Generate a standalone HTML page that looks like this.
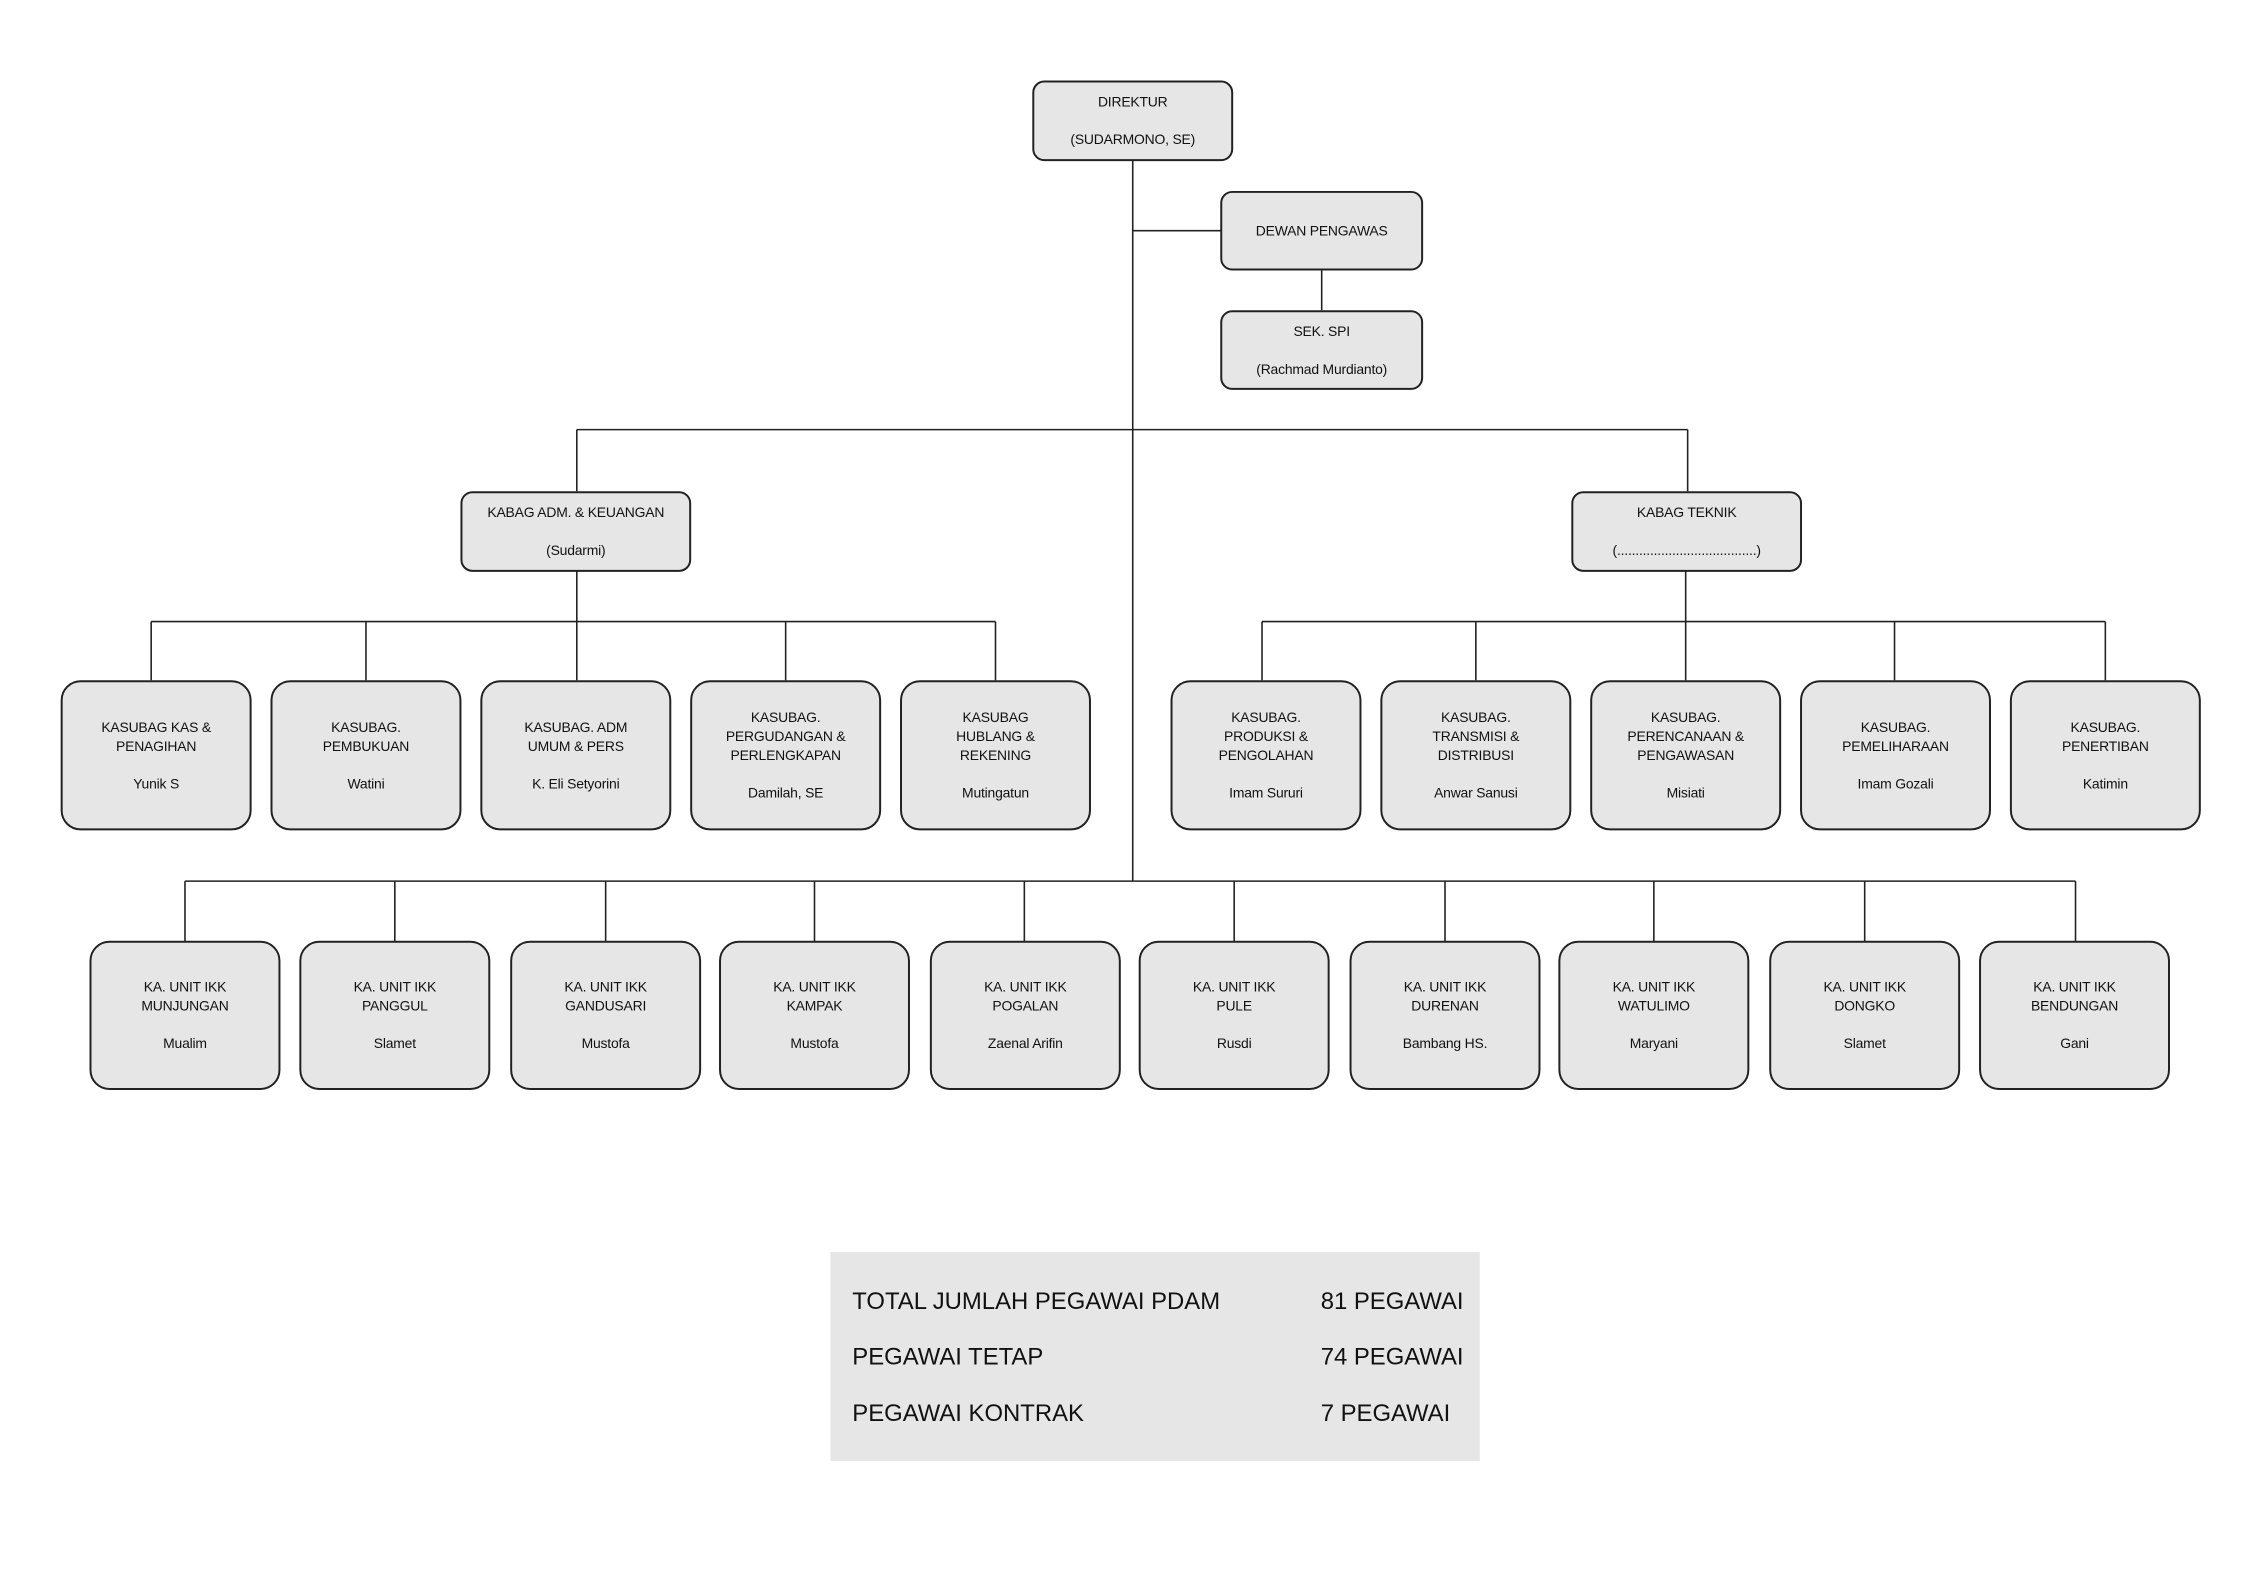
<!DOCTYPE html>
<html><head><meta charset="utf-8"><style>
html,body{margin:0;padding:0;background:#fff;}
body{width:2262px;height:1572px;position:relative;overflow:hidden;font-family:"Liberation Sans",sans-serif;color:#111;}
#w{position:absolute;left:0;top:0;width:2262px;height:1572px;transform:scale(0.9945);transform-origin:0 0;}
.b{position:absolute;box-sizing:border-box;background:#e6e6e6;border:2px solid #222;border-radius:12px;display:flex;flex-direction:column;justify-content:center;align-items:center;text-align:center;font-size:14px;line-height:19px;letter-spacing:-0.2px;}
.k{border-radius:20px;}
.sp{height:19px;}
svg{position:absolute;left:0;top:0;}
.sum{position:absolute;left:835px;top:1259px;width:653px;height:210px;background:#e6e6e6;font-size:24px;}
.sum div{position:absolute;white-space:nowrap;}
</style></head><body><div id="w">
<svg width="2262" height="1572">
<g stroke="#222" stroke-width="1.6" fill="none">
<line x1="1139" y1="161" x2="1139" y2="886"/>
<line x1="1139" y1="232" x2="1228" y2="232"/>
<line x1="1329" y1="271" x2="1329" y2="312"/>
<line x1="580" y1="432" x2="1697" y2="432"/>
<line x1="580" y1="432" x2="580" y2="494"/>
<line x1="1697" y1="432" x2="1697" y2="494"/>
<line x1="580" y1="574" x2="580" y2="684"/>
<line x1="1695" y1="574" x2="1695" y2="684"/>
<line x1="152" y1="625" x2="1001" y2="625"/>
<line x1="152" y1="625" x2="152" y2="684"/>
<line x1="368" y1="625" x2="368" y2="684"/>
<line x1="790" y1="625" x2="790" y2="684"/>
<line x1="1001" y1="625" x2="1001" y2="684"/>
<line x1="1269" y1="625" x2="2117" y2="625"/>
<line x1="1269" y1="625" x2="1269" y2="684"/>
<line x1="1484" y1="625" x2="1484" y2="684"/>
<line x1="1905" y1="625" x2="1905" y2="684"/>
<line x1="2117" y1="625" x2="2117" y2="684"/>
<line x1="186" y1="886" x2="2087" y2="886"/>
<line x1="186" y1="886" x2="186" y2="947"/>
<line x1="397" y1="886" x2="397" y2="947"/>
<line x1="609" y1="886" x2="609" y2="947"/>
<line x1="819" y1="886" x2="819" y2="947"/>
<line x1="1030" y1="886" x2="1030" y2="947"/>
<line x1="1241" y1="886" x2="1241" y2="947"/>
<line x1="1453" y1="886" x2="1453" y2="947"/>
<line x1="1663" y1="886" x2="1663" y2="947"/>
<line x1="1875" y1="886" x2="1875" y2="947"/>
<line x1="2087" y1="886" x2="2087" y2="947"/>
</g></svg>

<div class="b" style="left:1038px;top:81px;width:202px;height:81px;"><div>DIREKTUR</div><div class="sp"></div><div>(SUDARMONO, SE)</div></div>
<div class="b" style="left:1227px;top:192px;width:204px;height:80px;"><div>DEWAN PENGAWAS</div></div>
<div class="b" style="left:1227px;top:312px;width:204px;height:80px;"><div>SEK. SPI</div><div class="sp"></div><div>(Rachmad Murdianto)</div></div>

<div class="b" style="left:463px;top:494px;width:232px;height:81px;"><div>KABAG ADM. &amp; KEUANGAN</div><div class="sp"></div><div>(Sudarmi)</div></div>
<div class="b" style="left:1580px;top:494px;width:232px;height:81px;"><div>KABAG TEKNIK</div><div class="sp"></div><div>(......................................)</div></div>

<div class="b k" style="left:61px;top:684px;width:192px;height:151px;"><div>KASUBAG KAS &amp;<br>PENAGIHAN</div><div class="sp"></div><div>Yunik S</div></div>
<div class="b k" style="left:272px;top:684px;width:192px;height:151px;"><div>KASUBAG.<br>PEMBUKUAN</div><div class="sp"></div><div>Watini</div></div>
<div class="b k" style="left:483px;top:684px;width:192px;height:151px;"><div>KASUBAG. ADM<br>UMUM &amp; PERS</div><div class="sp"></div><div>K. Eli Setyorini</div></div>
<div class="b k" style="left:694px;top:684px;width:192px;height:151px;"><div>KASUBAG.<br>PERGUDANGAN &amp;<br>PERLENGKAPAN</div><div class="sp"></div><div>Damilah, SE</div></div>
<div class="b k" style="left:905px;top:684px;width:192px;height:151px;"><div>KASUBAG<br>HUBLANG &amp;<br>REKENING</div><div class="sp"></div><div>Mutingatun</div></div>

<div class="b k" style="left:1177px;top:684px;width:192px;height:151px;"><div>KASUBAG.<br>PRODUKSI &amp;<br>PENGOLAHAN</div><div class="sp"></div><div>Imam Sururi</div></div>
<div class="b k" style="left:1388px;top:684px;width:192px;height:151px;"><div>KASUBAG.<br>TRANSMISI &amp;<br>DISTRIBUSI</div><div class="sp"></div><div>Anwar Sanusi</div></div>
<div class="b k" style="left:1599px;top:684px;width:192px;height:151px;"><div>KASUBAG.<br>PERENCANAAN &amp;<br>PENGAWASAN</div><div class="sp"></div><div>Misiati</div></div>
<div class="b k" style="left:1810px;top:684px;width:192px;height:151px;"><div>KASUBAG.<br>PEMELIHARAAN</div><div class="sp"></div><div>Imam Gozali</div></div>
<div class="b k" style="left:2021px;top:684px;width:192px;height:151px;"><div>KASUBAG.<br>PENERTIBAN</div><div class="sp"></div><div>Katimin</div></div>

<div class="b k" style="left:90px;top:946px;width:192px;height:150px;"><div>KA. UNIT IKK<br>MUNJUNGAN</div><div class="sp"></div><div>Mualim</div></div>
<div class="b k" style="left:301px;top:946px;width:192px;height:150px;"><div>KA. UNIT IKK<br>PANGGUL</div><div class="sp"></div><div>Slamet</div></div>
<div class="b k" style="left:513px;top:946px;width:192px;height:150px;"><div>KA. UNIT IKK<br>GANDUSARI</div><div class="sp"></div><div>Mustofa</div></div>
<div class="b k" style="left:723px;top:946px;width:192px;height:150px;"><div>KA. UNIT IKK<br>KAMPAK</div><div class="sp"></div><div>Mustofa</div></div>
<div class="b k" style="left:935px;top:946px;width:192px;height:150px;"><div>KA. UNIT IKK<br>POGALAN</div><div class="sp"></div><div>Zaenal Arifin</div></div>
<div class="b k" style="left:1145px;top:946px;width:192px;height:150px;"><div>KA. UNIT IKK<br>PULE</div><div class="sp"></div><div>Rusdi</div></div>
<div class="b k" style="left:1357px;top:946px;width:192px;height:150px;"><div>KA. UNIT IKK<br>DURENAN</div><div class="sp"></div><div>Bambang HS.</div></div>
<div class="b k" style="left:1567px;top:946px;width:192px;height:150px;"><div>KA. UNIT IKK<br>WATULIMO</div><div class="sp"></div><div>Maryani</div></div>
<div class="b k" style="left:1779px;top:946px;width:192px;height:150px;"><div>KA. UNIT IKK<br>DONGKO</div><div class="sp"></div><div>Slamet</div></div>
<div class="b k" style="left:1990px;top:946px;width:192px;height:150px;"><div>KA. UNIT IKK<br>BENDUNGAN</div><div class="sp"></div><div>Gani</div></div>

<div class="sum">
<div style="left:22px;top:36px;">TOTAL JUMLAH PEGAWAI PDAM</div>
<div style="left:493px;top:36px;">81 PEGAWAI</div>
<div style="left:22px;top:92px;">PEGAWAI TETAP</div>
<div style="left:493px;top:92px;">74 PEGAWAI</div>
<div style="left:22px;top:149px;">PEGAWAI KONTRAK</div>
<div style="left:493px;top:149px;">7 PEGAWAI</div>
</div>
</div></body></html>
